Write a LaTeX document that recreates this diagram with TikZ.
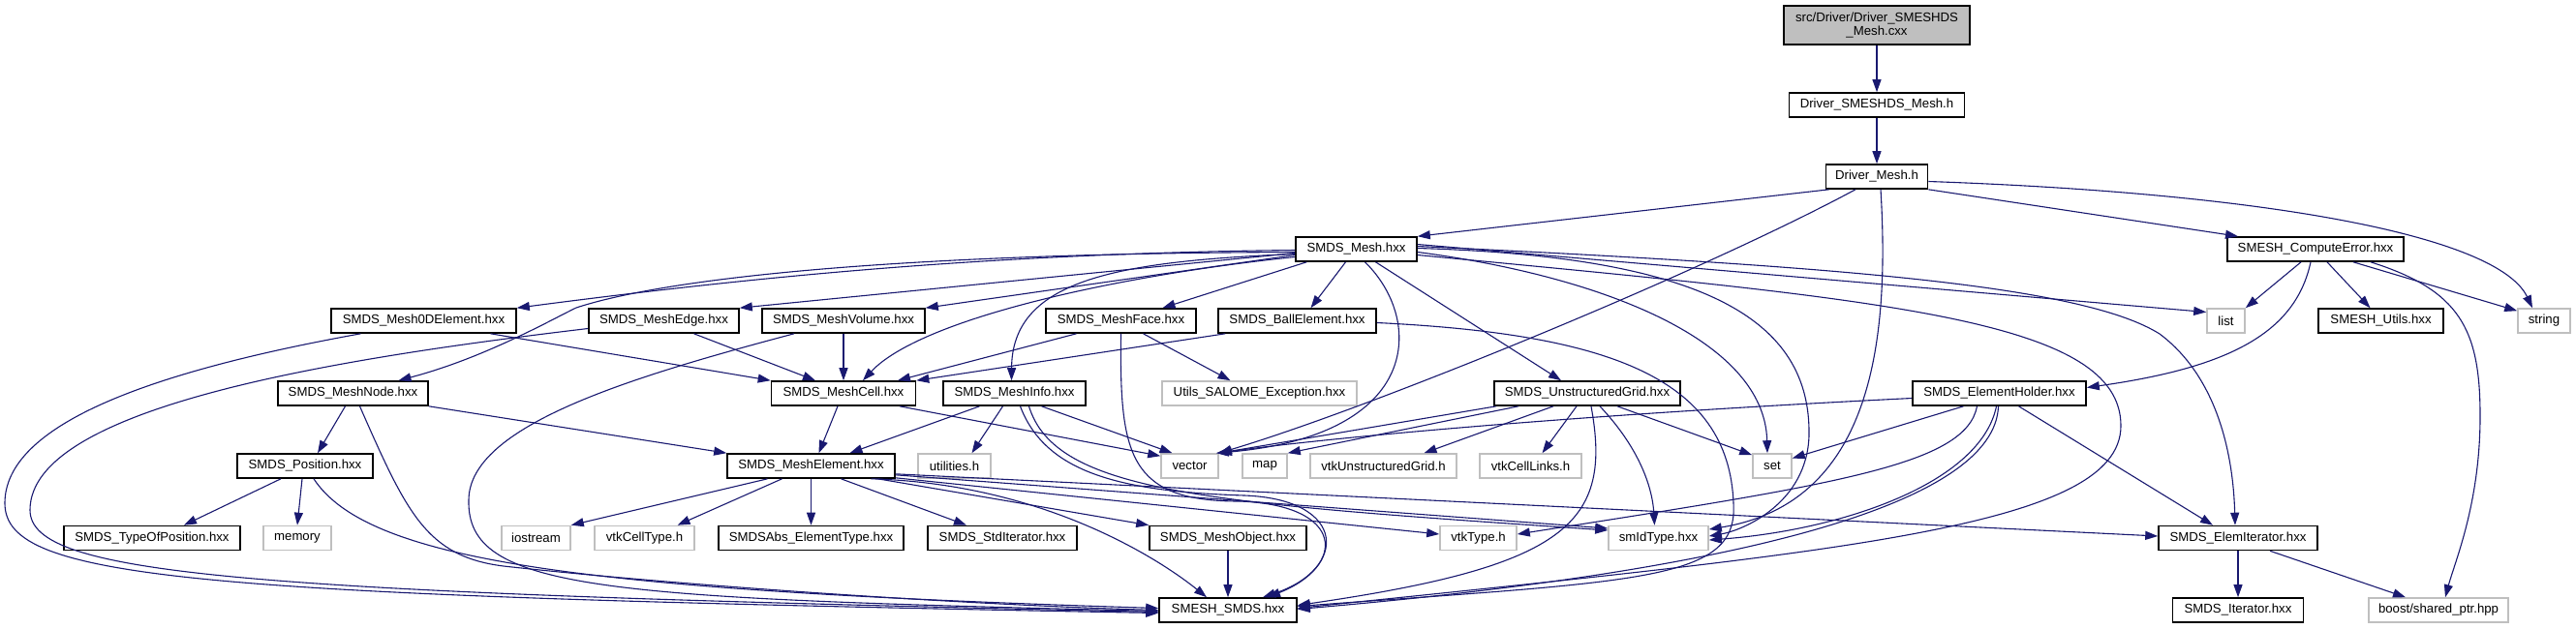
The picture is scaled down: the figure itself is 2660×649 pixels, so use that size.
\documentclass[tikz,border=0pt]{standalone}
\usepackage{fontspec}
\setmainfont{Liberation Sans}
\usetikzlibrary{positioning,arrows.meta}
\definecolor{EdgeBlue}{RGB}{25,25,112}
\definecolor{ExtGray}{RGB}{191,191,191}
\tikzset{
  dep/.style={-{Triangle[length=13pt,width=9pt]},line width=1.1pt,draw=EdgeBlue},
  filebox/.style={draw=black,line width=1.6pt,fill=white,minimum height=25pt,
    inner sep=0pt,font=\fontsize{13.2}{14.5}\selectfont},
  extbox/.style={filebox,draw=ExtGray},
  srcbox/.style={filebox,fill=ExtGray,minimum height=40pt,align=center}
}

\begin{document}
\begin{tikzpicture}[x=1pt,y=-1pt]
  \useasboundingbox (0,0) rectangle (2660,649);
  \fill[white] (0,0) rectangle (2660,649);

  \node[srcbox,minimum width=192pt] (cxx) at (1938,26) {src/Driver/Driver\_SMESHDS\\\_Mesh.cxx};
  \node[filebox,minimum width=181pt] (dsmesh) at (1938,108.5) {Driver\_SMESHDS\_Mesh.h};
  \node[filebox,minimum width=105pt] (drvmesh) at (1938,182.5) {Driver\_Mesh.h};

  \node[filebox,minimum width=125pt] (smdsmesh) at (1400.5,257.5) {SMDS\_Mesh.hxx};
  \node[filebox,minimum width=182pt] (comperr) at (2391,257.5) {SMESH\_ComputeError.hxx};

  \node[filebox,minimum width=191pt] (mesh0d) at (437.5,331.5) {SMDS\_Mesh0DElement.hxx};
  \node[filebox,minimum width=155pt] (medge) at (685.5,331.5) {SMDS\_MeshEdge.hxx};
  \node[filebox,minimum width=168pt] (mvolume) at (871,331.5) {SMDS\_MeshVolume.hxx};
  \node[filebox,minimum width=155pt] (mface) at (1157.5,331.5) {SMDS\_MeshFace.hxx};
  \node[filebox,minimum width=163pt] (ball) at (1339.5,331.5) {SMDS\_BallElement.hxx};
  \node[extbox,minimum width=39pt] (list) at (2298.5,331.5) {list};
  \node[filebox,minimum width=129pt] (utils) at (2458.5,331.5) {SMESH\_Utils.hxx};
  \node[extbox,minimum width=54pt] (string) at (2627,331.5) {string};

  \node[filebox,minimum width=155pt] (mnode) at (364.5,406.5) {SMDS\_MeshNode.hxx};
  \node[filebox,minimum width=149pt] (mcell) at (871,406.5) {SMDS\_MeshCell.hxx};
  \node[filebox,minimum width=147pt] (minfo) at (1047.5,406.5) {SMDS\_MeshInfo.hxx};
  \node[extbox,minimum width=201pt] (salexc) at (1300.5,406.5) {Utils\_SALOME\_Exception.hxx};
  \node[filebox,minimum width=192pt] (ugrid) at (1639,406.5) {SMDS\_UnstructuredGrid.hxx};
  \node[filebox,minimum width=179pt] (holder) at (2064.5,406.5) {SMDS\_ElementHolder.hxx};

  \node[filebox,minimum width=140pt] (position) at (315,481.5) {SMDS\_Position.hxx};
  \node[filebox,minimum width=173pt] (melem) at (837.5,481.5) {SMDS\_MeshElement.hxx};
  \node[extbox,minimum width=75pt] (utilities) at (985.5,481.5) {utilities.h};
  \node[extbox,minimum width=59pt] (vector) at (1228.5,481.5) {vector};
  \node[extbox,minimum width=46pt] (map) at (1306,481.5) {map};
  \node[extbox,minimum width=151pt] (vtkugrid) at (1428.5,481.5) {vtkUnstructuredGrid.h};
  \node[extbox,minimum width=105pt] (celllinks) at (1580.5,481.5) {vtkCellLinks.h};
  \node[extbox,minimum width=40pt] (set) at (1830,481.5) {set};

  \node[filebox,minimum width=182pt] (typepos) at (157,556) {SMDS\_TypeOfPosition.hxx};
  \node[extbox,minimum width=70pt] (memory) at (307,556) {memory};
  \node[extbox,minimum width=71pt] (iostream) at (553.5,556) {iostream};
  \node[extbox,minimum width=103pt] (celltype) at (665.5,556) {vtkCellType.h};
  \node[filebox,minimum width=191pt,below=47.9pt of melem] (abstype) {SMDSAbs\_ElementType.hxx};
  \node[filebox,minimum width=154pt] (stditer) at (1035,556) {SMDS\_StdIterator.hxx};
  \node[filebox,minimum width=162pt] (mobject) at (1268,556) {SMDS\_MeshObject.hxx};
  \node[extbox,minimum width=79pt] (vtktype) at (1526.5,556) {vtkType.h};
  \node[extbox,minimum width=103pt] (smid) at (1712.5,556) {smIdType.hxx};
  \node[filebox,minimum width=164pt] (elemiter) at (2311,556) {SMDS\_ElemIterator.hxx};

  \node[filebox,minimum width=142pt,below=47.9pt of mobject] (smeshsmds) {SMESH\_SMDS.hxx};
  \node[filebox,minimum width=135pt,below=47.9pt of elemiter] (iter) {SMDS\_Iterator.hxx};
  \node[extbox,minimum width=144pt] (shptr) at (2518,630.5) {boost/shared\_ptr.hpp};

  \draw[dep] (cxx) -- (dsmesh);
  \draw[dep] (dsmesh) -- (drvmesh);
  \draw[dep] ([xshift=4pt]drvmesh.south west) -- (smdsmesh.north east);
  \draw[dep] (drvmesh.south east) -- ([xshift=-80pt]comperr.north);
  \draw[dep] ([yshift=-5pt]drvmesh.east) .. controls (2350,200) and (2580,245) .. ([xshift=-12pt]string.north);
  \draw[dep] ([xshift=-22pt]drvmesh.south) .. controls (1760,280) and (1420,420) .. (vector.north east);
  \draw[dep] ([xshift=4pt]drvmesh.south) .. controls (1952,360) and (1930,520) .. ([yshift=9pt]smid.east);

  \draw[dep] ([yshift=-1pt]smdsmesh.west) .. controls (1000,262) and (750,290) .. (mesh0d.north east);
  \draw[dep] ([yshift=-3pt]smdsmesh.west) .. controls (900,262) and (680,290) .. (595,318) .. controls (570,330) and (500,370) .. ([xshift=47pt]mnode.north);
  \draw[dep] ([yshift=-4pt]smdsmesh.west) -- (medge.north east);
  \draw[dep] ([yshift=-6pt]smdsmesh.west) -- (mvolume.north east);
  \draw[dep] ([yshift=-8pt]smdsmesh.west) .. controls (1150,285) and (950,330) .. ([xshift=20pt]mcell.north);
  \draw[dep] ([yshift=-5pt]smdsmesh.west) .. controls (1150,270) and (1045,290) .. ([xshift=-3pt]minfo.north);
  \draw[dep] ([xshift=12pt]smdsmesh.south west) -- ([xshift=43pt]mface.north);
  \draw[dep] ([xshift=-11pt]smdsmesh.south) -- ([xshift=14pt]ball.north);
  \draw[dep] ([xshift=20pt]smdsmesh.south) -- ([xshift=-27pt]ugrid.north);
  \draw[dep] ([xshift=9pt]smdsmesh.south) .. controls (1470,330) and (1470,450) .. ([xshift=-3pt]vector.north east);
  \draw[dep] ([yshift=-3pt]smdsmesh.east) .. controls (1650,285) and (1822,350) .. ([xshift=-5pt]set.north);
  \draw[dep] ([yshift=1pt]smdsmesh.east) .. controls (1760,265) and (1870,330) .. (1868,450) .. controls (1866,520) and (1800,548) .. ([yshift=2pt]smid.east);
  \draw[dep] ([yshift=-6pt]smdsmesh.east) .. controls (1950,310) and (2190,330) .. (2190,440) .. controls (2190,545) and (1900,570) .. ([yshift=2pt]smeshsmds.east);
  \draw[dep] ([yshift=5pt]smdsmesh.east) -- ([yshift=9pt]list.west);
  \draw[dep] ([yshift=3pt]smdsmesh.east) .. controls (1900,275) and (2150,295) .. (2230,345) .. controls (2290,390) and (2306,470) .. ([xshift=-3pt]elemiter.north);

  \draw[dep] ([xshift=69pt]mesh0d.south) -- (mcell.north west);
  \draw[dep] ([xshift=-65pt]mesh0d.south) .. controls (150,385) and (5,440) .. (5,520) .. controls (5,600) and (200,615) .. ([yshift=-3pt]smeshsmds.west);
  \draw[dep] ([xshift=31pt]medge.south) -- ([xshift=-29pt]mcell.north);
  \draw[dep] ([yshift=-8pt]medge.west) .. controls (350,370) and (31,420) .. (31,527) .. controls (31,595) and (250,612) .. ([yshift=-2pt]smeshsmds.west);
  \draw[dep] (mvolume) -- (mcell);
  \draw[dep] ([xshift=-51pt]mvolume.south) .. controls (650,390) and (484,440) .. (484,517) .. controls (482,610) and (620,618) .. ([yshift=-1pt]smeshsmds.west);
  \draw[dep] ([xshift=-46pt]mface.south) -- ([xshift=56pt]mcell.north);
  \draw[dep] ([xshift=23pt]mface.south) -- ([xshift=-30pt]salexc.north);
  \draw[dep] (mface.south) .. controls (1156,470) and (1165,518) .. (1280,518) .. controls (1390,522) and (1390,585) .. ([xshift=41pt]smeshsmds.north);
  \draw[dep] ([xshift=8pt]ball.south west) -- (mcell.north east);
  \draw[dep] ([yshift=-2pt]ball.east) .. controls (1660,345) and (1785,390) .. (1790,520) .. controls (1795,600) and (1700,600) .. ([yshift=4pt]smeshsmds.east);

  \draw[dep] ([xshift=-8pt]mnode.south) -- ([xshift=13pt]position.north);
  \draw[dep] ([xshift=7pt]mnode.south) .. controls (420,530) and (440,575) .. (520,585) .. controls (700,605) and (1000,625) .. (smeshsmds.west);
  \draw[dep] (mnode.south east) -- (melem.north west);
  \draw[dep] ([xshift=-25pt]position.south) -- ([xshift=33pt]typepos.north);
  \draw[dep] ([xshift=-3pt]position.south) -- (memory.north);
  \draw[dep] ([xshift=9pt]position.south) .. controls (380,580) and (600,610) .. ([yshift=2pt]smeshsmds.west);

  \draw[dep] ([xshift=-6pt]mcell.south) -- ([xshift=8pt]melem.north);
  \draw[dep] ([xshift=58pt]mcell.south) -- ([yshift=-3pt]vector.north west);
  \draw[dep] ([xshift=-36pt]minfo.south) -- ([xshift=40pt]melem.north);
  \draw[dep] ([xshift=-12pt]minfo.south) -- ([xshift=18pt]utilities.north);
  \draw[dep] ([xshift=28pt]minfo.south) -- ([xshift=-18pt]vector.north);
  \draw[dep] ([xshift=6pt]minfo.south) .. controls (1080,490) and (1160,508) .. (1285,512) .. controls (1392,516) and (1392,588) .. ([xshift=36pt]smeshsmds.north);
  \draw[dep] ([xshift=15pt]minfo.south) .. controls (1090,510) and (1250,520) .. ([yshift=8pt]smid.west);

  \draw[dep] ([xshift=-45pt]melem.south) -- (iostream.north east);
  \draw[dep] ([xshift=-30pt]melem.south) -- ([xshift=34pt]celltype.north);
  \draw[dep] (melem) -- (abstype);
  \draw[dep] ([xshift=31pt]melem.south) -- ([xshift=-37pt]stditer.north);
  \draw[dep] ([xshift=69pt]melem.south) -- (mobject.north west);
  \draw[dep] ([xshift=62pt]melem.south) .. controls (1080,500) and (1200,580) .. ([xshift=-22pt]smeshsmds.north);
  \draw[dep] ([yshift=1pt]melem.south east) -- ([yshift=4pt]vtktype.west);
  \draw[dep] ([yshift=4pt]melem.south east) -- ([yshift=10pt]smid.west);
  \draw[dep] ([yshift=5pt]melem.south east) -- ([yshift=2pt]elemiter.west);
  \draw[dep] (mobject) -- (smeshsmds);

  \draw[dep] ([xshift=-94pt]ugrid.south) -- (vector.north east);
  \draw[dep] ([xshift=-71pt]ugrid.south) -- (map.north east);
  \draw[dep] ([xshift=-35pt]ugrid.south) -- ([xshift=42pt]vtkugrid.north);
  \draw[dep] ([xshift=-11pt]ugrid.south) -- ([xshift=12pt]celllinks.north);
  \draw[dep] ([xshift=31pt]ugrid.south) -- ([yshift=-2pt]set.north west);
  \draw[dep] ([xshift=13pt]ugrid.south) .. controls (1690,460) and (1706,500) .. ([xshift=-4pt]smid.north);
  \draw[dep] ([xshift=4pt]ugrid.south) .. controls (1665,540) and (1620,585) .. ([yshift=5pt]smeshsmds.east);

  \draw[dep] ([yshift=-5pt]holder.west) .. controls (1600,430) and (1350,455) .. (vector.north east);
  \draw[dep] ([xshift=-37pt]holder.south) -- ([yshift=8pt]set.east);
  \draw[dep] ([xshift=-23pt]holder.south) .. controls (2030,480) and (1900,500) .. ([yshift=4pt]vtktype.east);
  \draw[dep] ([xshift=-3pt]holder.south) .. controls (2045,500) and (1900,548) .. ([yshift=-2pt]smid.east);
  \draw[dep] ([xshift=-1pt]holder.south) .. controls (2060,520) and (1800,590) .. ([yshift=1pt]smeshsmds.east);
  \draw[dep] ([xshift=20pt]holder.south) -- ([xshift=-26pt]elemiter.north);

  \draw[dep] ([xshift=-15pt]comperr.south) -- (list.north east);
  \draw[dep] ([xshift=12pt]comperr.south) -- ([xshift=-11pt]utils.north);
  \draw[dep] ([xshift=39pt]comperr.south) -- ([yshift=-3pt]string.north west);
  \draw[dep] ([xshift=-5pt]comperr.south) .. controls (2370,345) and (2300,380) .. ([yshift=6pt]holder.east);
  \draw[dep] ([xshift=57pt]comperr.south) .. controls (2540,300) and (2561,340) .. (2561,430) .. controls (2561,520) and (2535,580) .. ([xshift=7pt]shptr.north);
  \draw[dep] (elemiter) -- (iter);
  \draw[dep] ([xshift=33pt]elemiter.south) -- ([xshift=-34pt]shptr.north);
\end{tikzpicture}
\end{document}
